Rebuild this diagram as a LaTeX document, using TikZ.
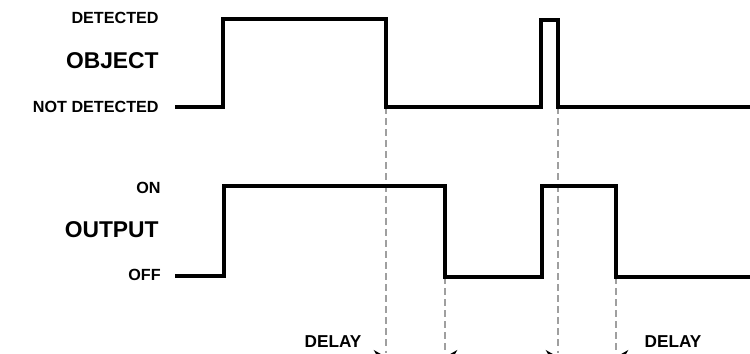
\documentclass[tikz,border=0pt]{standalone}
\usepackage{fontspec}
\setmainfont{Liberation Sans}
\usetikzlibrary{arrows.meta}
\begin{document}
\begin{tikzpicture}[x=0.02cm,y=-0.02cm,
  sig/.style={line width=2.2pt, line join=miter, line cap=butt},
  guide/.style={gray!75, line width=0.6pt, dash pattern=on 4pt off 2.3pt},
  small/.style={font=\bfseries\fontsize{9.2}{10}\selectfont, anchor=east, inner sep=0pt},
  big/.style={font=\bfseries\fontsize{13}{14}\selectfont, anchor=east, inner sep=0pt},
  dly/.style={font=\bfseries\fontsize{9.8}{11}\selectfont, inner sep=0pt},
  dim/.style={-{Stealth[length=7pt,width=8pt]}, line width=0.6pt}]
\useasboundingbox (0,0) rectangle (750,353);
\clip (0,0) rectangle (750,353);
% labels
\node[small] (det) at (159,18) {DETECTED};
\node[big] (obj) at (159,61) {OBJECT};
\node[small] (ndet) at (159,107) {NOT DETECTED};
\node[small] (on) at (161,188) {ON};
\node[big] (out) at (159,230) {OUTPUT};
\node[small] (off) at (161,275) {OFF};
\node[dly] (d1) at (333,342) {DELAY};
\node[dly] (d2) at (673,342) {DELAY};
% key points
\coordinate (a1) at (386,107);
\coordinate (a2) at (558,107);
\coordinate (b1) at (445,277);
\coordinate (b2) at (616,277);
\coordinate (a1e) at (386,353);
\coordinate (a2e) at (558,353);
\coordinate (b1e) at (445,353);
\coordinate (b2e) at (616,353);
% guides
\draw[guide] (a1) -- (a1e);
\draw[guide] (a2) -- (a2e);
\draw[guide] (b1) -- (b1e);
\draw[guide] (b2) -- (b2e);
% object signal
\draw[sig] (175,107) -- (223,107) -- (223,19) -- (386,19) -- (a1) -- (541,107)
  -- (541,20) -- (558,20) -- (a2) -- (752,107);
% output signal
\draw[sig] (175,276) -- (224,276) -- (224,186) -- (445,186) -- (b1) -- (542,277)
  -- (542,186) -- (616,186) -- (b2) -- (752,277);
% delay arrows
\coordinate (p1) at (300,357);
\coordinate (p2) at (475,357);
\coordinate (p3) at (530,357);
\coordinate (p4) at (705,357);
\draw[dim] (p1) -- (386,357);
\draw[dim] (p2) -- (445,357);
\draw[dim] (p3) -- (558,357);
\draw[dim] (p4) -- (616,357);
\end{tikzpicture}
\end{document}
